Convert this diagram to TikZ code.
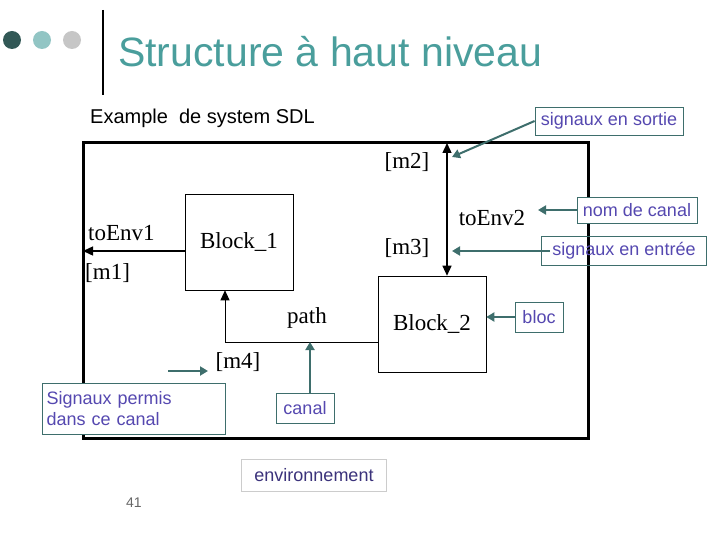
\documentclass[tikz,border=0pt]{standalone}
\usepackage{fontspec}
\setmainfont{Liberation Serif}
\newfontfamily\arial{Liberation Sans}
\usetikzlibrary{arrows.meta}
\definecolor{teal1}{HTML}{4A9E9C}
\definecolor{call}{HTML}{3E6E6C}
\definecolor{ctext}{HTML}{5548B0}
\tikzset{
 blk/.style={draw,semithick,minimum width=108pt,minimum height=96pt,font=\fontsize{23}{26}\selectfont},
 lab/.style={font=\fontsize{23}{26}\selectfont,inner sep=0},
 cbox/.style={draw=call,thick,fill=white,font=\arial\fontsize{18}{21}\selectfont,text=ctext,inner sep=3pt,align=left},
 carr/.style={draw=call,line width=2pt,-{Triangle[length=8pt,width=9pt]}},
 sarr/.style={line width=1.4pt,-{Triangle[length=10pt,width=9pt]}},
}
\begin{document}
\begin{tikzpicture}[x=1pt,y=-1pt]
\useasboundingbox (0,0) rectangle (720,540);
% header
\fill[call!80!black] (12,40) circle (9);
\fill[teal1!60] (42,40) circle (9);
\fill[gray!45] (72,40) circle (9);
\draw[line width=2.5pt] (103,10) -- (103,95);
\node[anchor=west,text=teal1,font=\arial\fontsize{41}{45}\selectfont,inner sep=0] (title) at (118,52) {Structure à haut niveau};
\node[anchor=west,font=\arial\fontsize{20}{23}\selectfont,inner sep=0] (ex) at (90,118) {Example\ \ de system SDL};
% system box
\draw[line width=3pt] (83,143) rectangle (588,438);
\node[blk] (b1) at (239,242) {Block\_1};
\node[blk] (b2) at (432,324) {Block\_2};
\coordinate (top) at (447,143);
\coordinate (left) at (83,251);
\draw[sarr] (b1.west |- left) -- (left);
\draw[sarr,{Triangle[length=10pt,width=9pt]}-{Triangle[length=10pt,width=9pt]}] (top) -- (top |- b2.north);
\coordinate (pc) at (225,342);
\draw[sarr,line width=1pt] (b2.west |- pc) -- (pc) -- (pc |- b1.south);
\node[lab,anchor=west] (te1) at (88,233) {toEnv1};
\node[lab,anchor=west] (m1) at (85,273) {[m1]};
\node[lab] (path) at (307,318) {path};
\node[lab] (m4) at (238,362) {[m4]};
\node[lab] (m2) at (407,162) {[m2]};
\node[lab] (m3) at (407,248) {[m3]};
\node[lab] (te2) at (492,218) {toEnv2};
% callouts
\node[cbox,minimum width=148pt,minimum height=28pt] (so) at (609,121) {signaux en sortie};
\coordinate (soa) at (452,157);
\draw[carr] (so.west) -- (soa);
\node[cbox,minimum width=120pt,minimum height=26pt] (nc) at (637,210) {nom de canal};
\coordinate (nca) at (538,210);
\draw[carr] (nc.west) -- (nca);
\coordinate (sea) at (452,251);
\draw[carr] (550,251) -- (sea);
\node[cbox,minimum width=165pt,minimum height=29pt,fill=none] (se) at (624,251) {signaux en entrée};
\node[cbox,minimum width=48pt,minimum height=30pt] (bl) at (539,317) {bloc};
\draw[carr] (bl.west) -- (b2.east |- bl);
\node[cbox,minimum width=58pt,minimum height=30pt] (ca) at (305,408) {canal};
\coordinate (caa) at (310,342);
\draw[carr] (ca.north -| caa) -- (caa);
\node[cbox,minimum width=183pt,minimum height=51pt,text width=175pt] (sp) at (134,409) {Signaux permis\\dans ce canal};
\coordinate (spa) at (168,371);
\coordinate (spb) at (208,371);
\draw[carr] (spa) -- (spb);
\node[cbox,draw=gray!40,minimum width=145pt,minimum height=32pt,text=ctext!70!black] (env) at (314,475) {environnement};
\node[font=\arial\fontsize{14}{16}\selectfont,text=gray!80!black] (n41) at (134,503) {41};
\end{tikzpicture}
\end{document}
